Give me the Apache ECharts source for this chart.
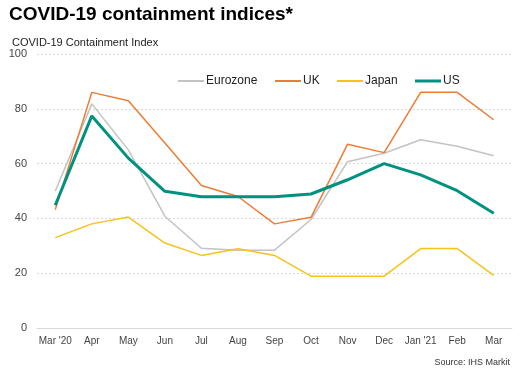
<!DOCTYPE html>
<html><head><meta charset="utf-8">
<script src="https://cdn.jsdelivr.net/npm/echarts@6/dist/echarts.min.js"></script>
<style>html,body{margin:0;padding:0;background:#fff}#c{width:529px;height:378px}</style>
</head><body><div id="c"></div>
<script>
var categories = ["Mar '20","Apr","May","Jun","Jul","Aug","Sep","Oct","Nov","Dec","Jan '21","Feb","Mar"];
var eurozone = [50, 81.8, 65, 40.8, 29.1, 28.4, 28.4, 39.6, 60.7, 63.8, 68.7, 66.3, 62.9];
var uk = [43.2, 86, 82.9, 67.5, 52, 48, 38, 40.4, 67.1, 64, 86, 86, 76];
var japan = [33, 38, 40.5, 31, 26.5, 28.9, 26.5, 18.9, 18.9, 18.9, 29, 29, 19.2];
var us = [44.8, 77.4, 62, 49.9, 47.9, 47.9, 47.9, 48.9, 54.1, 60, 55.9, 50.1, 41.9];
var seriesNames = ['Eurozone', 'UK', 'Japan', 'US'];

var font = "Liberation Sans";
var colors = ['#c3c3c3', '#ec7c34', '#f6c31a', '#00927f'];
var widths = [1.5, 1.5, 1.5, 3];
var legendLeft = [178, 275, 337, 415];
var chart = echarts.init(document.getElementById('c'));
var dataSets = [eurozone, uk, japan, us];
var series = seriesNames.map(function (n, i) {
  return {name: n, type: 'line', data: dataSets[i], symbol: 'none', smooth: false,
    lineStyle: {color: colors[i], width: widths[i]}, itemStyle: {color: colors[i]}};
});
var legends = seriesNames.map(function (n, i) {
  return {left: legendLeft[i], top: 75, itemWidth: 26, itemHeight: i === 3 ? 3 : 2,
    icon: 'rect', padding: 0,
    textStyle: {fontFamily: font, fontSize: 12, color: '#222', padding: [0, 0, 0, -3]},
    data: [{name: n, itemStyle: {color: colors[i]}}]};
});
chart.setOption({
  animation: false,
  textStyle: {fontFamily: font},
  title: [
    {text: 'COVID-19 containment indices*', left: 4, top: 0,
     textStyle: {fontFamily: font, fontSize: 19, fontWeight: 'bold', color: '#000'}},
    {text: 'COVID-19 Containment Index', left: 7, top: 32,
     textStyle: {fontFamily: font, fontSize: 11, fontWeight: 'normal', color: '#222'}},
    {text: 'Source: IHS Markit', right: 14, top: 353,
     textStyle: {fontFamily: font, fontSize: 9, fontWeight: 'normal', color: '#333'}}
  ],
  legend: legends,
  grid: {left: 37, right: 17, top: 54, bottom: 50},
  xAxis: {
    type: 'category', data: categories, boundaryGap: true,
    axisLine: {lineStyle: {color: '#d9d9d9', width: 1}},
    axisTick: {show: false},
    axisLabel: {fontFamily: font, fontSize: 10, color: '#444', margin: 8, interval: 0}
  },
  yAxis: {
    type: 'value', min: 0, max: 100, interval: 20,
    axisLine: {show: false}, axisTick: {show: false},
    axisLabel: {fontFamily: font, fontSize: 11, color: '#444', margin: 10},
    splitLine: {lineStyle: {color: '#d9d9d9', type: [2, 2], width: 1}}
  },
  series: series
});
</script></body></html>
